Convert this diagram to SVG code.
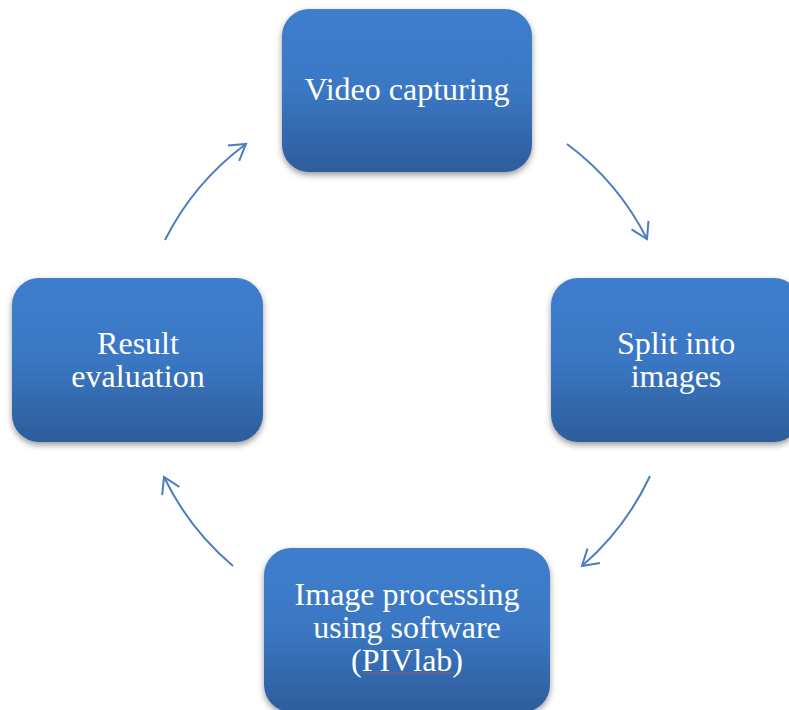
<svg xmlns="http://www.w3.org/2000/svg" width="789" height="710" viewBox="0 0 789 710">
<style>
.box{fill:url(#g);filter:url(#sh)}
.lbl{font-family:"Liberation Serif","Times New Roman",serif;font-size:32px;fill:#ffffff;text-anchor:middle}
.arc{fill:none;stroke:#4A7EBF;stroke-width:2;marker-end:url(#ah)}
</style>
<defs>
<linearGradient id="g" x1="0" y1="0" x2="0" y2="1">
<stop offset="0" stop-color="#3E7ECD"/>
<stop offset="0.5" stop-color="#3A77C3"/>
<stop offset="1" stop-color="#2D5D9B"/>
</linearGradient>
<filter id="sh" x="-10%" y="-10%" width="120%" height="125%">
<feDropShadow dx="0" dy="3" stdDeviation="3" flood-color="#000" flood-opacity="0.4"/>
</filter>
<marker id="ah" markerUnits="userSpaceOnUse" orient="auto" markerWidth="24" markerHeight="24" refX="18" refY="12" viewBox="0 0 24 24">
<path d="M2.5,2.5 L18,12 L2.5,21.5" fill="none" stroke="#4A7EBF" stroke-width="2"/>
</marker>
</defs>
<g id="connectors">
<path class="arc" d="M567,144 A270,270 0 0 1 647,239"/>
<path class="arc" d="M650,476 A270,270 0 0 1 582,566"/>
<path class="arc" d="M233,566 A270,270 0 0 1 164,477"/>
<path class="arc" d="M165,240 A270,270 0 0 1 246,144"/>
</g>
<g id="video-capturing">
<rect class="box" x="282" y="9" width="250" height="163" rx="27"/>
<text class="lbl" x="407" y="100">Video capturing</text>
</g>
<g id="split-into-images">
<rect class="box" x="551" y="278" width="250" height="164" rx="27"/>
<text class="lbl" x="676" y="354">Split into</text>
<text class="lbl" x="676" y="387">images</text>
</g>
<g id="image-processing">
<rect class="box" x="264" y="548" width="286" height="164" rx="27"/>
<text class="lbl" x="407" y="605">Image processing</text>
<text class="lbl" x="407" y="638">using software</text>
<text class="lbl" x="407" y="671">(PIVlab)</text>
<path d="M362,673 q2,-1.5 4,0 t4,0 t4,0 t4,0 t4,0 t4,0 t4,0 t4,0 t4,0 t4,0 t4,0 t4,0 t4,0 t4,0 t4,0 t4,0 t4,0 t4,0 t4,0 t4,0 t4,0 t4,0 t4,0" fill="none" stroke="#C0504D" stroke-width="0.8" opacity="0.8"/>
</g>
<g id="result-evaluation">
<rect class="box" x="12" y="278" width="251" height="164" rx="27"/>
<text class="lbl" x="138" y="354">Result</text>
<text class="lbl" x="138" y="387">evaluation</text>
</g>
</svg>
